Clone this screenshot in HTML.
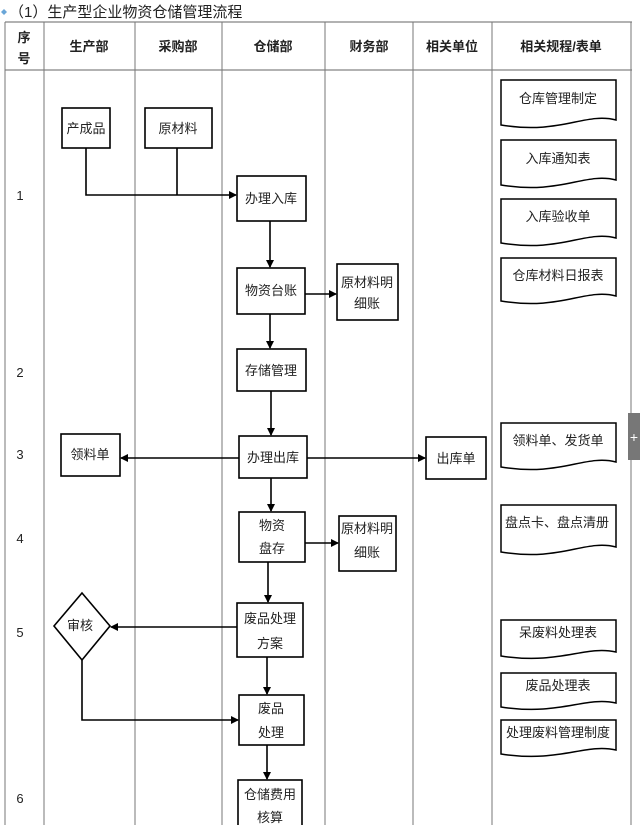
<!DOCTYPE html>
<html><head><meta charset="utf-8"><style>
body{margin:0;background:#fff;width:640px;height:825px;overflow:hidden}
svg text{font-family:"Liberation Sans","Noto Sans CJK SC",sans-serif;fill:#222}
</style></head><body>
<svg width="640" height="825" viewBox="0 0 640 825" xmlns="http://www.w3.org/2000/svg">
<defs><marker id="a" markerWidth="8" markerHeight="8" refX="7" refY="4" orient="auto" markerUnits="userSpaceOnUse"><path d="M0,0 L8,4 L0,8 z" fill="#000"/></marker></defs>
<path d="M1,12 l3,-3 l3,3 l-3,3z" fill="#6aa6d8"/>
<text x="9" y="17" font-size="15" fill="#333">（1）生产型企业物资仓储管理流程</text>
<g stroke="#777" stroke-width="1" fill="none">
<line x1="5" y1="22" x2="632" y2="22" stroke="#666"/>
<line x1="5" y1="70" x2="632" y2="70" stroke="#666"/>
<line x1="5" y1="22" x2="5" y2="825"/>
<line x1="44" y1="22" x2="44" y2="825"/>
<line x1="135" y1="22" x2="135" y2="825"/>
<line x1="222" y1="22" x2="222" y2="825"/>
<line x1="325" y1="22" x2="325" y2="825"/>
<line x1="413" y1="22" x2="413" y2="825"/>
<line x1="492" y1="22" x2="492" y2="825"/>
<line x1="631" y1="22" x2="631" y2="825"/>
</g>
<g font-size="13" font-weight="bold" text-anchor="middle">
<text x="24" y="42">序</text><text x="24" y="63">号</text>
<text x="89" y="51">生产部</text><text x="178" y="51">采购部</text><text x="273" y="51">仓储部</text>
<text x="369" y="51">财务部</text><text x="452" y="51">相关单位</text><text x="561" y="51">相关规程/表单</text>
</g>
<g font-size="13" fill="#444" text-anchor="middle">
<text x="20" y="200">1</text><text x="20" y="377">2</text><text x="20" y="459">3</text>
<text x="20" y="543">4</text><text x="20" y="637">5</text><text x="20" y="803">6</text>
</g>
<g stroke="#000" stroke-width="1.6" fill="#fff">
<rect x="62" y="108" width="48" height="40"/>
<rect x="145" y="108" width="67" height="40"/>
<rect x="237" y="176" width="69" height="45"/>
<rect x="237" y="268" width="68" height="46"/>
<rect x="337" y="264" width="61" height="56"/>
<rect x="237" y="349" width="69" height="42"/>
<rect x="239" y="436" width="68" height="42"/>
<rect x="61" y="434" width="59" height="42"/>
<rect x="426" y="437" width="60" height="42"/>
<rect x="239" y="512" width="66" height="50"/>
<rect x="339" y="516" width="57" height="55"/>
<rect x="237" y="603" width="66" height="54"/>
<path d="M82,593 L110,626 L82,660 L54,626 z"/>
<rect x="239" y="695" width="65" height="50"/>
<rect x="238" y="780" width="64" height="50"/>
</g>
<g stroke="#000" stroke-width="1.5" fill="#fff">
<path d="M501,80 H616 V120 C585,112 560,135 501,125 z"/>
<path d="M501,140 H616 V180 C585,172 560,195 501,185 z"/>
<path d="M501,199 H616 V238 C585,230 560,253 501,243 z"/>
<path d="M501,258 H616 V296 C585,288 560,311 501,301 z"/>
<path d="M501,423 H616 V462 C585,454 560,477 501,467 z"/>
<path d="M501,505 H616 V547 C585,539 560,562 501,552 z"/>
<path d="M501,620 H616 V652 C585,645 560,665 501,656 z"/>
<path d="M501,673 H616 V703 C585,696 560,716 501,707 z"/>
<path d="M501,720 H616 V750 C585,743 560,763 501,754 z"/>
</g>
<g stroke="#000" stroke-width="1.6" fill="none" marker-end="url(#a)">
<path d="M86,148 V195 H236"/>
<path d="M177,148 V195" marker-end="none"/>
<path d="M270,221 V267"/>
<path d="M305,294 H336"/>
<path d="M270,314 V348"/>
<path d="M271,391 V435"/>
<path d="M239,458 H121"/>
<path d="M307,458 H425"/>
<path d="M271,478 V511"/>
<path d="M305,543 H338"/>
<path d="M268,562 V602"/>
<path d="M237,627 H111"/>
<path d="M82,660 V720 H238"/>
<path d="M267,657 V694"/>
<path d="M267,745 V779"/>
</g>
<g font-size="13" text-anchor="middle">
<text x="86" y="133">产成品</text><text x="178" y="133">原材料</text>
<text x="271" y="203">办理入库</text>
<text x="271" y="295">物资台账</text>
<text x="367" y="287">原材料明</text><text x="367" y="308">细账</text>
<text x="271" y="375">存储管理</text>
<text x="273" y="462">办理出库</text>
<text x="90" y="459">领料单</text>
<text x="456" y="463">出库单</text>
<text x="272" y="530">物资</text><text x="272" y="553">盘存</text>
<text x="367" y="533">原材料明</text><text x="367" y="557">细账</text>
<text x="270" y="623">废品处理</text><text x="270" y="648">方案</text>
<text x="80" y="630">审核</text>
<text x="271" y="713">废品</text><text x="271" y="737">处理</text>
<text x="270" y="799">仓储费用</text><text x="270" y="822">核算</text>
<text x="558" y="103">仓库管理制定</text>
<text x="558" y="163">入库通知表</text>
<text x="558" y="221">入库验收单</text>
<text x="558" y="280">仓库材料日报表</text>
<text x="558" y="445">领料单、发货单</text>
<text x="557" y="527">盘点卡、盘点清册</text>
<text x="558" y="637">呆废料处理表</text>
<text x="558" y="690">废品处理表</text>
<text x="558" y="737">处理废料管理制度</text>
</g>
<rect x="628" y="413" width="12" height="47" fill="#777"/>
<text x="634" y="442" font-size="14" fill="#fff" text-anchor="middle" style="fill:#fff">+</text>
</svg>
</body></html>
